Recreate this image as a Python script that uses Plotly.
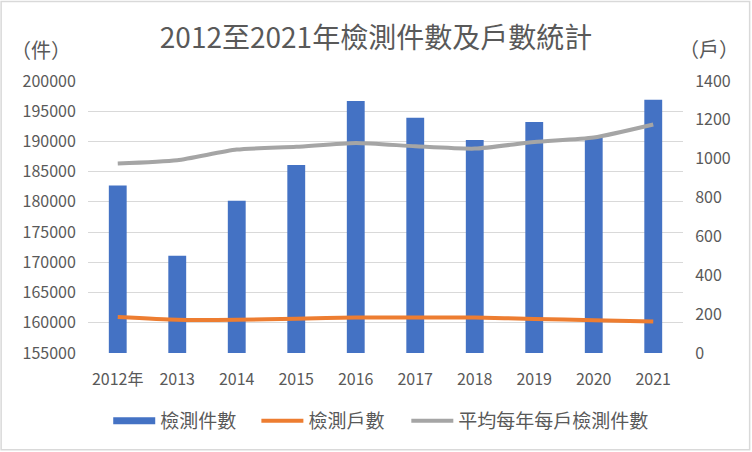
import plotly.graph_objects as go

# data
years = ["2012年", "2013", "2014", "2015", "2016", "2017", "2018", "2019", "2020", "2021"]
cases = [182700, 171100, 180200, 186100, 196700, 193900, 190250, 193200, 190700, 196900]
households = [185, 171, 171, 176, 183, 183, 183, 175, 169, 162]
avg_cases = [975, 992, 1047, 1061, 1081, 1064, 1052, 1086, 1109, 1176]

FONT = "Noto Sans CJK TC, Noto Sans, sans-serif"
TXT = "#595959"
GRID = "#d9d9d9"
BLUE = "#4472C4"

fig = go.Figure()

fig.add_trace(go.Bar(
    x=years, y=cases, name="檢測件數",
    marker=dict(color=BLUE, line=dict(width=0)),
    yaxis="y", showlegend=False,
))
# legend-only entry so the swatch is a wide bar like the original
fig.add_trace(go.Scatter(
    x=[None], y=[None], name="檢測件數", mode="lines",
    line=dict(color=BLUE, width=7), yaxis="y", legend="legend",
))
fig.add_trace(go.Scatter(
    x=years, y=households, name="檢測戶數", mode="lines",
    line=dict(color="#ED7D31", width=4, shape="spline", smoothing=0.6),
    yaxis="y2", legend="legend2",
))
fig.add_trace(go.Scatter(
    x=years, y=avg_cases, name="平均每年每戶檢測件數", mode="lines",
    line=dict(color="#A5A5A5", width=4, shape="spline", smoothing=0.6),
    yaxis="y2", legend="legend3",
))

leg = dict(orientation="h", xanchor="left", y=-0.25, yanchor="middle",
           font=dict(size=19, color=TXT), itemwidth=42)

fig.update_layout(
    width=752, height=452,
    margin=dict(l=88, r=69, t=81, b=99),
    paper_bgcolor="white", plot_bgcolor="white",
    font=dict(family=FONT, color=TXT, size=16),
    title=dict(text="2012至2021年檢測件數及戶數統計", x=0.5, xanchor="center",
               y=0.915, yanchor="middle", font=dict(size=28, color=TXT)),
    bargap=0.7,
    showlegend=True,
    legend=dict(leg, x=0.034),
    legend2=dict(leg, x=0.283),
    legend3=dict(leg, x=0.535),
    xaxis=dict(showgrid=False, showline=False, tickfont=dict(size=16),
               ticks="outside", ticklen=12, tickcolor="rgba(0,0,0,0)"),
    yaxis=dict(range=[155000, 200000], dtick=5000, showgrid=True, gridcolor=GRID,
               gridwidth=1, zeroline=False, showline=False, tickformat="d",
               ticks="outside", ticklen=8, tickcolor="rgba(0,0,0,0)"),
    yaxis2=dict(range=[0, 1400], dtick=200, overlaying="y", side="right",
                showgrid=False, zeroline=False, showline=False,
                ticks="outside", ticklen=8, tickcolor="rgba(0,0,0,0)"),
)

fig.add_annotation(text="（件）", xref="paper", yref="paper", x=-0.132, y=1.115,
                   xanchor="left", yanchor="middle", showarrow=False,
                   font=dict(size=20, color=TXT))
fig.add_annotation(text="（戶）", xref="paper", yref="paper", x=0.99, y=1.12,
                   xanchor="left", yanchor="middle", showarrow=False,
                   font=dict(size=20, color=TXT))

# outer chart border
fig.add_shape(type="rect", xref="paper", yref="paper",
              x0=-0.146, x1=1.112, y0=-0.356, y1=1.292,
              line=dict(color=GRID, width=1.5), layer="below")

fig.write_html("out.html", config={"displayModeBar": False},
               post_script="document.body.style.margin='0';")
